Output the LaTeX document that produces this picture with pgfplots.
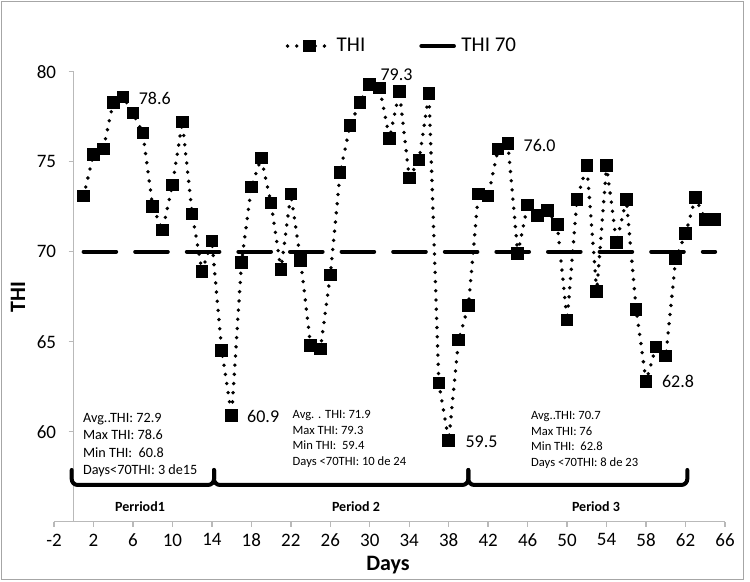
\documentclass[border=0pt]{standalone}
\usepackage{fontspec}
\setmainfont{Carlito}
\usepackage{pgfplots}
\usepackage{pgfplotstable}
\pgfplotsset{compat=1.18}
\pgfplotsset{thilegend/.style={legend image code/.code={%
  \draw[mark repeat=2,mark phase=2,##1] plot coordinates {(0cm,0cm) (0.38cm,0cm) (0.76cm,0cm)};}}}

% daily THI values
\pgfplotstableread{
day thi
1 73.1
2 75.4
3 75.7
4 78.3
5 78.6
6 77.7
7 76.6
8 72.5
9 71.2
10 73.7
11 77.2
12 72.1
13 68.9
14 70.6
15 64.5
16 60.9
17 69.4
18 73.6
19 75.2
20 72.7
21 69.0
22 73.2
23 69.5
24 64.8
25 64.6
26 68.7
27 74.4
28 77.0
29 78.3
30 79.3
31 79.1
32 76.3
33 78.9
34 74.1
35 75.1
36 78.8
37 62.7
38 59.5
39 65.1
40 67.0
41 73.2
42 73.1
43 75.7
44 76.0
45 69.9
46 72.6
47 72.0
48 72.3
49 71.5
50 66.2
51 72.9
52 74.8
53 67.8
54 74.8
55 70.5
56 72.9
57 66.8
58 62.8
59 64.7
60 64.2
61 69.6
62 71.0
63 73.0
64 71.8
65 71.8
}\thidata

\begin{document}
\begin{tikzpicture}
\useasboundingbox (-27pt,-30.15pt) rectangle (348pt,260.85pt);
\draw[gray!70, line width=0.6pt] (-26.3pt,-28.9pt) rectangle (344.8pt,260.1pt);
\begin{axis}[
  scale only axis, width=335.5pt, height=225pt,
  xmin=-2, xmax=66, ymin=55, ymax=80,
  xtick={-2,2,...,66}, ytick={55,60,...,80},
  axis x line=bottom, axis y line=middle,
  axis line style={-, draw=gray!55, line width=0.7pt},
  tick style={draw=gray!55, line width=0.7pt},
  tick align=outside, major tick length=2.5pt,
  ticklabel style={font=\fontsize{9.5}{11}\selectfont},
  yticklabel style={xshift=-2.8pt},
  /pgf/number format/assume math mode=true,
  clip=false,
  legend columns=2,
  legend style={draw=none, fill=none, at={(0.52,1.057)}, anchor=center,
    font=\fontsize{10.5}{12}\selectfont,
    /tikz/every even column/.append style={column sep=25pt}},
]
\addplot[black, line width=1.9pt, line cap=round, dash pattern=on 0pt off 4.6pt,
  mark=square*, mark size=2.9pt, mark options={solid, fill=black, draw=black, line width=0.5pt},
  thilegend]
  table[x=day, y=thi] {\thidata};
\addlegendentry{THI}
\addplot[black, line width=2pt, line cap=round, dash pattern=on 16.3pt off 9.5pt]
  coordinates {(1,70) (65,70)};
\addlegendentry{THI 70}

\begin{scope}[every node/.style={anchor=west, inner sep=0pt, font=\fontsize{9}{10}\selectfont}]
\node[xshift=7.7pt, yshift=-1pt] at (axis cs:5,78.6) {78.6};
\node[xshift=7.6pt, yshift=-0.6pt] at (axis cs:16,60.9) {60.9};
\node[xshift=5.2pt, yshift=4.6pt] at (axis cs:30,79.3) {79.3};
\node[xshift=8.2pt, yshift=-0.5pt] at (axis cs:38,59.5) {59.5};
\node[xshift=7.7pt, yshift=-1.1pt] at (axis cs:44,76.0) {76.0};
\node[xshift=7.8pt] at (axis cs:58,62.8) {62.8};
\end{scope}
\end{axis}

% period summaries
\node[anchor=west, align=left, inner sep=0pt, font=\fontsize{7.1}{8.65}\selectfont]
  at (14.35pt,38.3pt) {Avg..THI: 72.9\\Max THI: 78.6\\Min THI:\ \ 60.8\\Days<70THI: 3 de15};
\node[anchor=west, align=left, inner sep=0pt, font=\fontsize{6.3}{7.75}\selectfont]
  at (119.15pt,41.3pt) {Avg. . THI: 71.9\\Max THI: 79.3\\Min THI:\ \ 59.4\\Days <70THI: 10 de 24};
\node[anchor=west, align=left, inner sep=0pt, font=\fontsize{6.3}{7.75}\selectfont]
  at (238.35pt,40.8pt) {Avg..THI: 70.7\\Max THI: 76\\Min THI:\ \ 62.8\\Days <70THI: 8 de 23};

% period braces
\begin{scope}[line width=2pt, rounded corners=3pt, line cap=round]
\draw (8.85pt,25.85pt) -- (8.85pt,18.35pt) -- (80pt,18.35pt) -- (80pt,25.85pt);
\draw (80pt,25.85pt) -- (80pt,18.35pt) -- (207.15pt,18.35pt) -- (207.15pt,25.85pt);
\draw (207.15pt,25.85pt) -- (207.15pt,18.35pt) -- (316.65pt,18.35pt) -- (316.65pt,25.85pt);
\end{scope}
\begin{scope}[every node/.style={inner sep=0pt, font=\fontsize{7}{8}\selectfont\bfseries}]
\node at (43pt,7.5pt) {Perriod1};
\node at (151pt,7.5pt) {Period 2};
\node at (271pt,7.5pt) {Period 3};
\end{scope}

% axis titles
\node[font=\fontsize{11}{13}\selectfont\bfseries] at (167pt,-21.65pt) {Days};
\node[font=\fontsize{11}{13}\selectfont\bfseries, rotate=90] at (-18pt,112.35pt) {THI};
\end{tikzpicture}
\end{document}
